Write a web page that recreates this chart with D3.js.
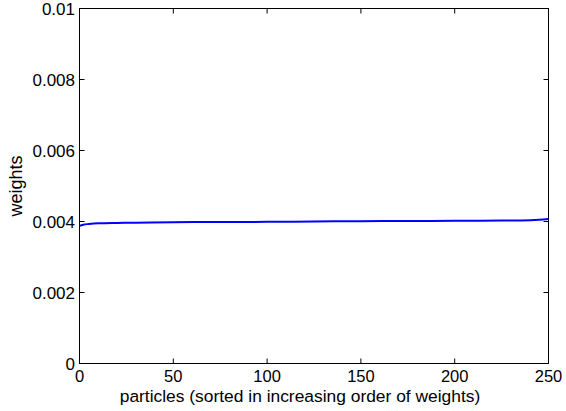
<!DOCTYPE html>
<html><head><meta charset="utf-8">
<script src="https://cdn.jsdelivr.net/npm/d3@7"></script>
<style>body{margin:0;background:#fff}svg{display:block}text{font-family:"Liberation Sans",Arial,sans-serif;fill:#000}</style>
</head><body><svg id="c" width="566" height="411"></svg>
<script>
const particleIdx = [0, 2, 5, 10, 20, 30, 50, 75, 100, 125, 150, 175, 200, 225, 235, 245, 250];
const weights = [0.00388, 0.00391, 0.00393, 0.00395, 0.00396, 0.003965, 0.00398, 0.003985, 0.00399, 0.004, 0.00401, 0.004015, 0.00402, 0.004025, 0.00403, 0.00405, 0.00407];
const xTicks = [0, 50, 100, 150, 200, 250];
const yTicks = [0, 0.002, 0.004, 0.006, 0.008, 0.01];
const yTickLabels = ["0", "0.002", "0.004", "0.006", "0.008", "0.01"];

const L = 79.5, R = 548.5, T = 8.5, B = 363.5;
const svg = d3.select("#c");
const x = d3.scaleLinear().domain([0, 250]).range([L, R]);
const y = d3.scaleLinear().domain([0, 0.01]).range([B, T]);
const fs = 17;

const g = svg.append("g");
g.append("rect").attr("x", L).attr("y", T).attr("width", R - L).attr("height", B - T)
  .attr("fill", "none").attr("stroke", "#000").attr("stroke-width", 1);

const tl = 5;
xTicks.forEach(t => {
  g.append("line").attr("x1", x(t)).attr("x2", x(t)).attr("y1", B).attr("y2", B - tl).attr("stroke", "#000");
  g.append("line").attr("x1", x(t)).attr("x2", x(t)).attr("y1", T).attr("y2", T + tl).attr("stroke", "#000");
  g.append("text").attr("x", x(t)).attr("y", 382).attr("text-anchor", "middle").attr("font-size", 16.5).text(t);
});
yTicks.forEach((t, i) => {
  g.append("line").attr("x1", L).attr("x2", L + tl).attr("y1", y(t)).attr("y2", y(t)).attr("stroke", "#000");
  g.append("line").attr("x1", R).attr("x2", R - tl).attr("y1", y(t)).attr("y2", y(t)).attr("stroke", "#000");
  g.append("text").attr("x", 75).attr("y", y(t) + 6).attr("text-anchor", "end").attr("font-size", fs).text(yTickLabels[i]);
});

const line = d3.line().x((d, i) => x(particleIdx[i])).y(d => y(d)).curve(d3.curveMonotoneX);
g.append("path").datum(weights).attr("d", line).attr("fill", "none").attr("stroke", "#0000ff").attr("stroke-width", 2);

g.append("text").attr("x", 300).attr("y", 401.5).attr("text-anchor", "middle").attr("font-size", 17.4)
  .text("particles (sorted in increasing order of weights)");
g.append("text").attr("transform", `translate(22,${(T + B) / 2}) rotate(-90)`).attr("text-anchor", "middle").attr("font-size", 18)
  .text("weights");
</script></body></html>
